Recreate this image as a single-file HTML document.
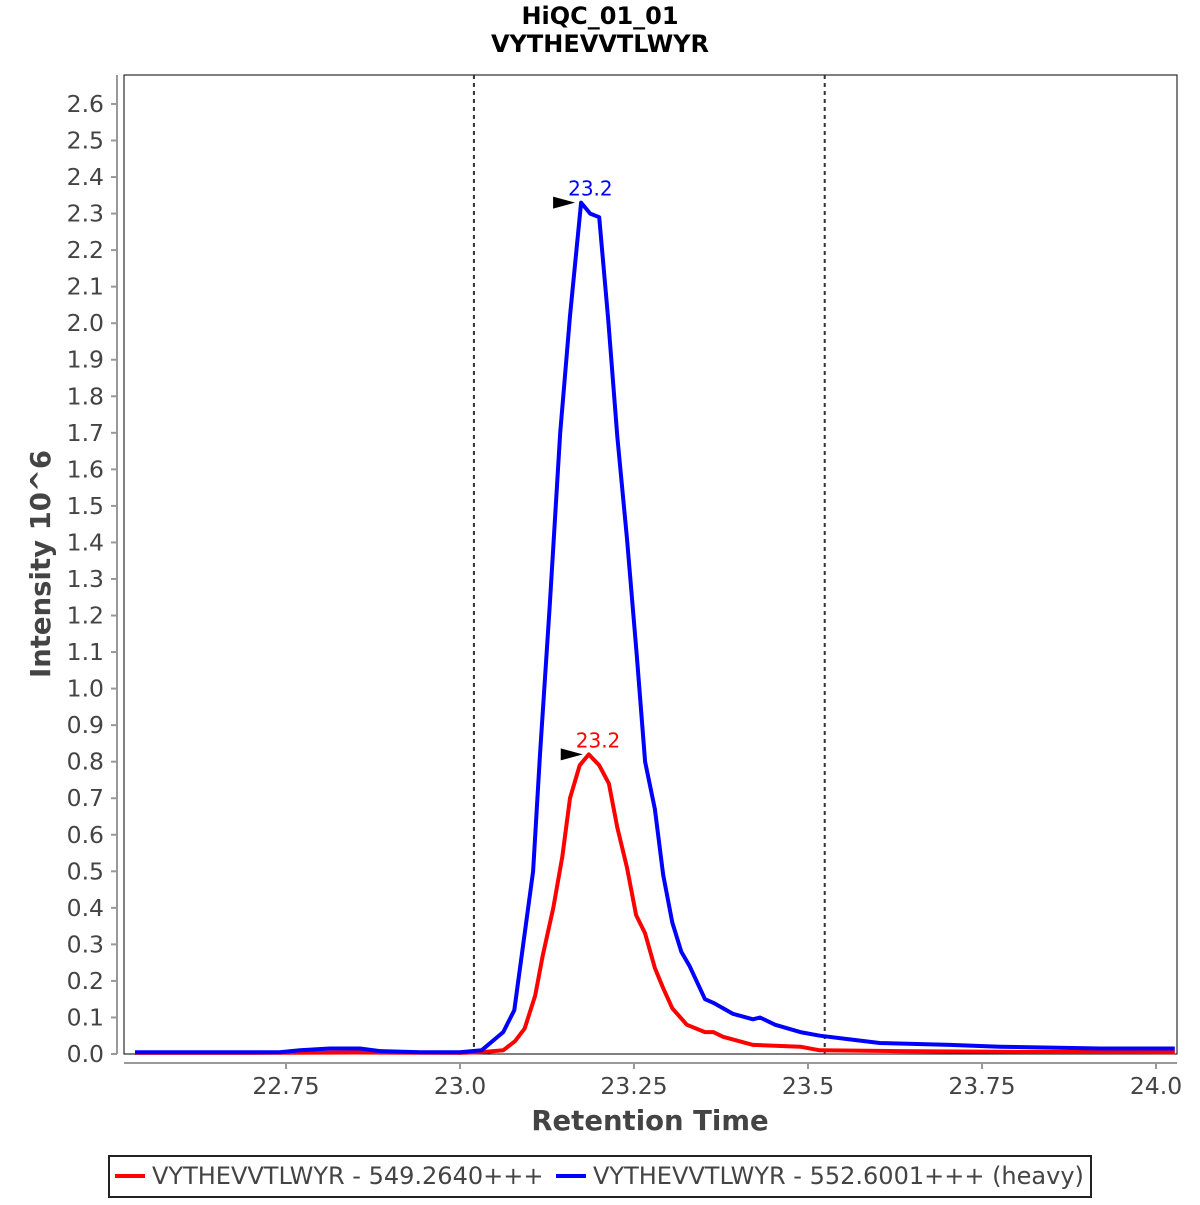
<!DOCTYPE html>
<html><head><meta charset="utf-8"><style>
body{margin:0;background:#fff;}
svg text{font-family:"DejaVu Sans","Liberation Sans",sans-serif;}
</style></head><body>
<svg id="chart" width="1200" height="1200" viewBox="0 0 1200 1200" xmlns="http://www.w3.org/2000/svg">
<rect x="0" y="0" width="1200" height="1200" fill="#fff"/>
<text x="600" y="24" text-anchor="middle" font-size="24" font-weight="bold" fill="#000">HiQC_01_01</text>
<text x="600" y="52" text-anchor="middle" font-size="24" font-weight="bold" fill="#000">VYTHEVVTLWYR</text>
<rect x="124" y="75" width="1053" height="979" fill="#fff" stroke="#000" stroke-width="1"/>
<g id="axes"></g>
<g id="marks"></g>
<text transform="translate(50,564) rotate(-90)" text-anchor="middle" font-size="27.5" font-weight="bold" fill="#444">Intensity 10^6</text>
<text x="650" y="1130" text-anchor="middle" font-size="27.5" font-weight="bold" fill="#444">Retention Time</text>
<g>
<rect x="109" y="1156" width="982" height="41" fill="#fff" stroke="#222" stroke-width="2"/>
<line x1="115" y1="1176" x2="145" y2="1176" stroke="#f00" stroke-width="4"/>
<text x="152" y="1184" font-size="24" fill="#444">VYTHEVVTLWYR - 549.2640+++</text>
<line x1="556" y1="1176" x2="586" y2="1176" stroke="#00f" stroke-width="4"/>
<text x="593" y="1184" font-size="24" fill="#444">VYTHEVVTLWYR - 552.6001+++ (heavy)</text>
</g>
</svg>
<script>
const xTicks=[22.75,23.0,23.25,23.5,23.75,24.0];
const xTickLabels=["22.75","23.0","23.25","23.5","23.75","24.0"];
const yTicks=[0,0.1,0.2,0.3,0.4,0.5,0.6,0.7,0.8,0.9,1.0,1.1,1.2,1.3,1.4,1.5,1.6,1.7,1.8,1.9,2.0,2.1,2.2,2.3,2.4,2.5,2.6];
const boundaries=[23.02,23.524];
const heavyTimes=[22.533,22.626,22.741,22.77,22.813,22.856,22.885,22.943,23.0,23.031,23.062,23.078,23.105,23.115,23.129,23.144,23.158,23.174,23.187,23.2,23.213,23.226,23.24,23.254,23.266,23.28,23.292,23.305,23.318,23.33,23.352,23.364,23.392,23.421,23.431,23.453,23.489,23.517,23.56,23.603,23.704,23.776,23.92,24.027];
const heavyValues=[0.005,0.005,0.005,0.01,0.015,0.015,0.008,0.005,0.005,0.01,0.06,0.12,0.5,0.82,1.23,1.7,2.02,2.33,2.3,2.29,2.01,1.69,1.41,1.09,0.8,0.67,0.49,0.36,0.28,0.24,0.15,0.14,0.11,0.095,0.1,0.08,0.06,0.05,0.04,0.03,0.025,0.02,0.015,0.015];
const lightTimes=[22.533,22.7,22.85,23.0,23.029,23.062,23.079,23.093,23.108,23.119,23.134,23.147,23.158,23.172,23.185,23.2,23.214,23.226,23.24,23.253,23.266,23.28,23.292,23.305,23.326,23.352,23.364,23.378,23.421,23.489,23.517,23.632,23.776,24.027];
const lightValues=[0.003,0.003,0.004,0.003,0.005,0.01,0.035,0.07,0.16,0.27,0.4,0.54,0.7,0.79,0.82,0.79,0.74,0.62,0.51,0.38,0.33,0.235,0.18,0.125,0.08,0.06,0.06,0.047,0.025,0.02,0.01,0.008,0.006,0.005];
const heavyPeak={t:23.174,v:2.33,label:"23.2"};
const lightPeak={t:23.185,v:0.82,label:"23.2"};

const NS="http://www.w3.org/2000/svg";
const X=t=>460+(t-23)*696;
const Y=v=>1054-v*365.4;
function mk(tag,attrs,parent,txt){const e=document.createElementNS(NS,tag);for(const k in attrs)e.setAttribute(k,attrs[k]);if(txt!==undefined)e.textContent=txt;parent.appendChild(e);return e;}
const axes=document.getElementById('axes'), marks=document.getElementById('marks');
let yl=mk('line',{x1:117,y1:75,x2:117,y2:1054,stroke:'#999','stroke-width':2},axes);


let xl=mk('line',{x1:124,y1:1063,x2:1177,y2:1063,stroke:'#999','stroke-width':2},axes);


yTicks.forEach(v=>{
  mk('line',{x1:111,y1:Y(v),x2:117,y2:Y(v),stroke:'#999','stroke-width':2},axes);
  const t=mk('text',{x:104,y:Y(v)+8,'text-anchor':'end','font-size':23.5,fill:'#444'},axes,v.toFixed(1));
  
  
});
xTicks.forEach((v,i)=>{
  mk('line',{x1:X(v),y1:1063,x2:X(v),y2:1069,stroke:'#999','stroke-width':2},axes);
  const t=mk('text',{x:Math.min(X(v),1157),y:1094,'text-anchor':'middle','font-size':23.5,fill:'#444'},axes,xTickLabels[i]);
  
  
});
boundaries.forEach(b=>{
  const l=mk('line',{x1:X(b),y1:75,x2:X(b),y2:1054,stroke:'#333','stroke-width':2,'stroke-dasharray':'4,4'},marks);
  
  
});
function series(ts,vs,color,name){
  const d=ts.map((t,i)=>(i?'L':'M')+X(t).toFixed(1)+','+Y(vs[i]).toFixed(1)).join(' ');
  const p=mk('path',{d:d,fill:'none',stroke:color,'stroke-width':4,'stroke-linejoin':'round'},marks);
  
  
}
series(lightTimes,lightValues,'#f00','light-series-line');
series(heavyTimes,heavyValues,'#00f','heavy-series-line');
function annot(pk,color,name){
  const x=X(pk.t),y=Y(pk.v);
  const a=mk('polygon',{points:`${x-28},${y-6} ${x-6},${y} ${x-28},${y+6}`,fill:'#000'},marks);
  
  
  const t=mk('text',{x:x-13,y:y-7,'font-size':20,fill:color},marks,pk.label);
  
  
}
annot(heavyPeak,'#00f','heavy-peak');
annot(lightPeak,'#f00','light-peak');
</script>
</body></html>
